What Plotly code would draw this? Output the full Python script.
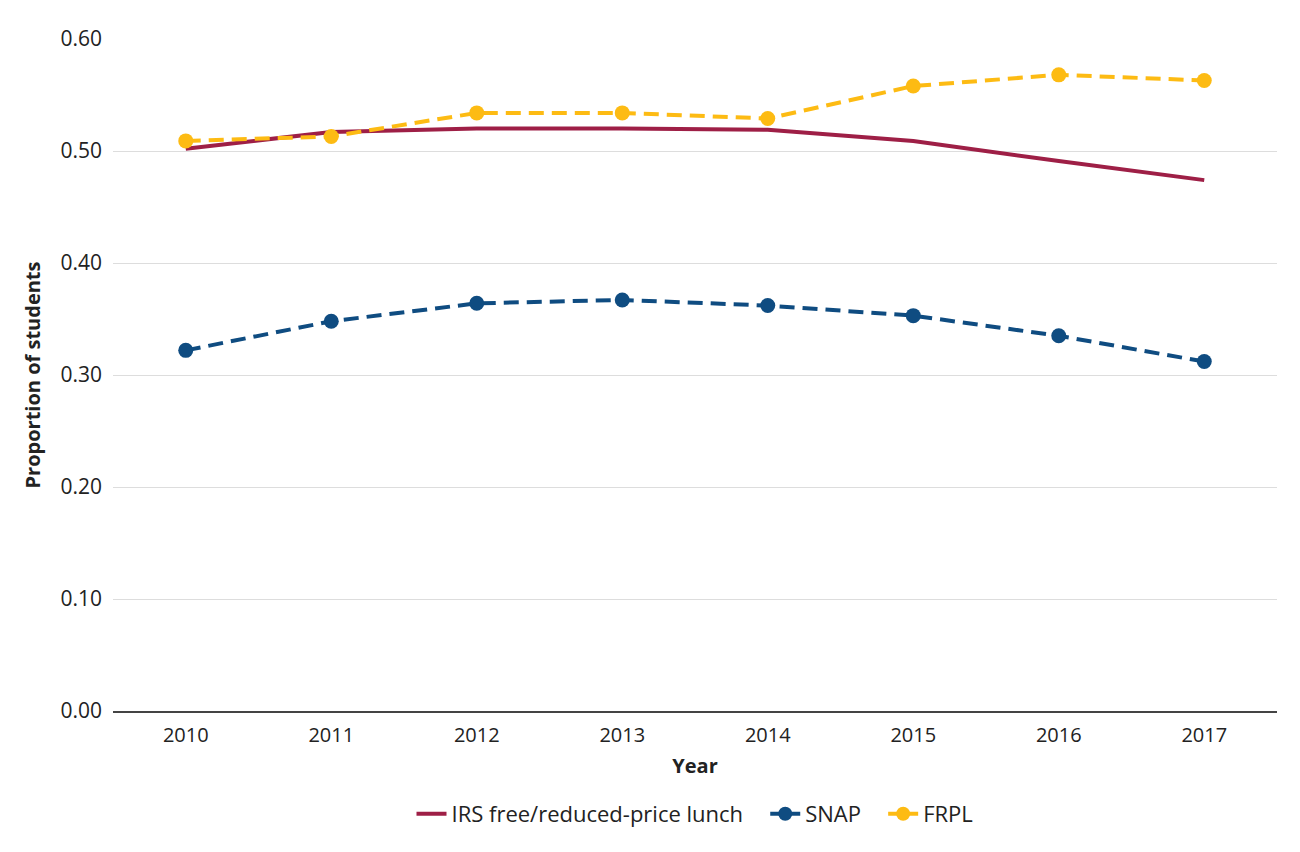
import plotly.graph_objects as go

years = ["2010", "2011", "2012", "2013", "2014", "2015", "2016", "2017"]
irs = [0.502, 0.517, 0.520, 0.520, 0.519, 0.509, 0.491, 0.474]
snap = [0.322, 0.348, 0.364, 0.367, 0.362, 0.353, 0.335, 0.312]
frpl = [0.509, 0.513, 0.534, 0.534, 0.529, 0.558, 0.568, 0.563]
yticks = [0.0, 0.1, 0.2, 0.3, 0.4, 0.5, 0.6]

c_irs, c_snap, c_frpl = "#9E1F46", "#0F4C81", "#FDBB13"
font = "Open Sans"
dash = "15px,8px"

fig = go.Figure()
fig.add_trace(go.Scatter(x=years, y=irs, name="IRS free/reduced-price lunch", mode="lines",
                         line=dict(color=c_irs, width=4), showlegend=False))
fig.add_trace(go.Scatter(x=years, y=snap, name="SNAP", mode="lines+markers",
                         line=dict(color=c_snap, width=4, dash=dash),
                         marker=dict(size=15, color=c_snap), showlegend=False))
fig.add_trace(go.Scatter(x=years, y=frpl, name="FRPL", mode="lines+markers",
                         line=dict(color=c_frpl, width=4, dash=dash),
                         marker=dict(size=15, color=c_frpl), showlegend=False))
# legend entries (solid line samples as in the original legend)
fig.add_trace(go.Scatter(x=[None], y=[None], name="IRS free/reduced-price lunch   ", mode="lines",
                         line=dict(color=c_irs, width=4)))
fig.add_trace(go.Scatter(x=[None], y=[None], name="SNAP   ", mode="lines+markers",
                         line=dict(color=c_snap, width=4), marker=dict(size=14, color=c_snap)))
fig.add_trace(go.Scatter(x=[None], y=[None], name="FRPL", mode="lines+markers",
                         line=dict(color=c_frpl, width=4), marker=dict(size=14, color=c_frpl)))

fig.update_layout(
    width=1300, height=852,
    margin=dict(l=105, r=31, t=31, b=149),
    plot_bgcolor="white", paper_bgcolor="white",
    font=dict(family=font, size=20, color="#222222"),
    showlegend=True,
    legend=dict(orientation="h", x=0.5, xanchor="center", y=-0.122, yanchor="top",
                font=dict(size=22)),
    xaxis=dict(type="category", range=[-0.5, 7.5], showgrid=False,
               showline=True, linecolor="#444444", linewidth=1.5, ticks="outside",
               ticklen=5, tickcolor="rgba(0,0,0,0)",
               tickfont=dict(size=20),
               title=dict(text="<b>Year</b>", font=dict(size=20), standoff=12)),
    yaxis=dict(range=[0, 0.6], tickvals=yticks, tickformat=".2f",
               showgrid=True, gridcolor="#DDDDDD", gridwidth=1, zeroline=False,
               showline=False, ticks="", ticklabelstandoff=10,
               tickfont=dict(size=21),
               title=dict(text="<b>Proportion of students</b>", font=dict(size=20), standoff=14)),
)
fig.write_html("out.html")
